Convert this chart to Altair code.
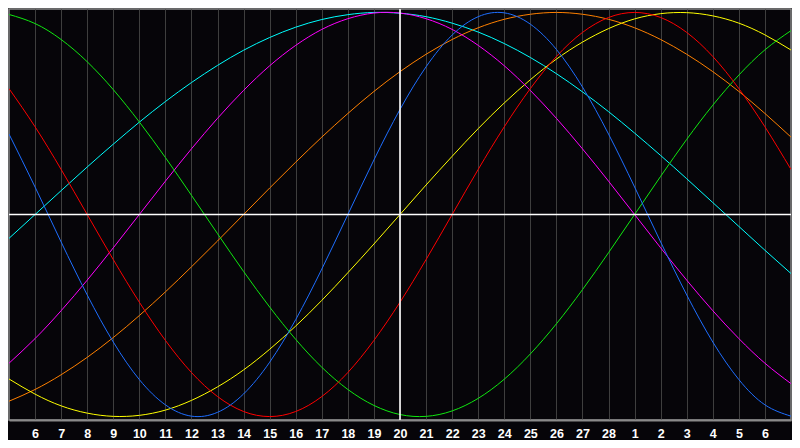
import altair as alt
import pandas as pd

# day index 0..30 (Feb 5 .. Mar 7); day 15 = Feb 20 (today)
days = list(range(31))

# tick labels for day index 1..29
day_labels = ["6", "7", "8", "9", "10", "11", "12", "13", "14", "15", "16", "17",
              "18", "19", "20", "21", "22", "23", "24", "25", "26", "27", "28",
              "1", "2", "3", "4", "5", "6"]
today = [15]

physical = [0.398, 0.136, -0.136, -0.398, -0.631, -0.817, -0.942, -0.998, -0.979, -0.888,
            -0.731, -0.520, -0.270, 0.000, 0.270, 0.520, 0.731, 0.888, 0.979, 0.998,
            0.942, 0.817, 0.631, 0.398, 0.136, -0.136, -0.398, -0.631, -0.817, -0.942, -0.998]
emotional = [0.623, 0.434, 0.223, 0.000, -0.223, -0.434, -0.623, -0.782, -0.901, -0.975,
             -1.000, -0.975, -0.901, -0.782, -0.623, -0.434, -0.223, 0.000, 0.223, 0.434,
             0.623, 0.782, 0.901, 0.975, 1.000, 0.975, 0.901, 0.782, 0.623, 0.434, 0.223]
intellectual = [0.990, 0.945, 0.866, 0.756, 0.618, 0.458, 0.282, 0.095, -0.095, -0.282,
                -0.458, -0.618, -0.756, -0.866, -0.945, -0.990, -0.999, -0.972, -0.910, -0.815,
                -0.690, -0.541, -0.372, -0.189, 0.000, 0.189, 0.372, 0.541, 0.690, 0.815, 0.910]
intuitive = [-0.736, -0.614, -0.476, -0.325, -0.165, 0.000, 0.165, 0.325, 0.476, 0.614,
             0.736, 0.837, 0.916, 0.969, 0.997, 0.997, 0.969, 0.916, 0.837, 0.736,
             0.614, 0.476, 0.325, 0.165, 0.000, -0.165, -0.325, -0.476, -0.614, -0.736, -0.837]
aesthetic = [-0.814, -0.889, -0.947, -0.983, -0.999, -0.994, -0.968, -0.920, -0.853, -0.769,
             -0.667, -0.552, -0.425, -0.288, -0.146, 0.000, 0.146, 0.288, 0.425, 0.552,
             0.667, 0.769, 0.853, 0.920, 0.968, 0.994, 0.999, 0.983, 0.947, 0.889, 0.814]
awareness = [-0.924, -0.866, -0.793, -0.707, -0.609, -0.500, -0.383, -0.259, -0.131, 0.000,
             0.131, 0.259, 0.383, 0.500, 0.609, 0.707, 0.793, 0.866, 0.924, 0.966,
             0.991, 1.000, 0.991, 0.966, 0.924, 0.866, 0.793, 0.707, 0.609, 0.500, 0.383]
spiritual = [-0.118, 0.000, 0.118, 0.235, 0.348, 0.457, 0.559, 0.653, 0.738, 0.813,
             0.876, 0.927, 0.965, 0.989, 1.000, 0.996, 0.979, 0.947, 0.903, 0.846,
             0.777, 0.697, 0.607, 0.509, 0.403, 0.292, 0.177, 0.059, -0.059, -0.177, -0.292]

series_names = ["spiritual", "awareness", "aesthetic", "intuitive",
                "intellectual", "emotional", "physical"]
series_values = [spiritual, awareness, aesthetic, intuitive,
                 intellectual, emotional, physical]
series_colors = ["#00ffff", "#ff8000", "#ffff00", "#ff00ff",
                 "#10e810", "#ff0000", "#1e6eff"]

rows = []
for name, vals in zip(series_names, series_values):
    for d, v in zip(days, vals):
        rows.append({"day": d, "value": v, "series": name})
df = pd.DataFrame(rows)
today_df = pd.DataFrame({"day": today, "value": [0]})

label_expr = "[" + ",".join("'%s'" % s for s in day_labels) + "][datum.value - 1]"

xscale = alt.Scale(domain=[0, 30], nice=False, zero=False)
yscale = alt.Scale(domain=[-1.017, 1.017], nice=False, zero=False)

xaxis = alt.Axis(values=list(range(1, 30)), labelExpr=label_expr,
                 title=None, ticks=False, grid=True,
                 gridColor="#3e3e3e", gridWidth=1,
                 domainColor="#8a8a8a", domainWidth=2,
                 labelColor="#ffffff", labelFont="Liberation Sans",
                 labelFontWeight="bold", labelFontSize=12.5,
                 labelPadding=7, labelFlush=False, labelOverlap=False,
                 labelSeparation=0, labelBound=False)

lines = alt.Chart(df).mark_line(strokeWidth=1, interpolate="natural", clip=True).encode(
    x=alt.X("day:Q", scale=xscale, axis=xaxis),
    y=alt.Y("value:Q", scale=yscale, axis=None),
    color=alt.Color("series:N", scale=alt.Scale(domain=series_names, range=series_colors),
                    legend=None),
    detail="series:N",
)

hline = alt.Chart(today_df).mark_rule(color="#ffffff", strokeWidth=1.3).encode(
    y=alt.Y("value:Q", scale=yscale, axis=None)
)
vline = alt.Chart(today_df).mark_rule(color="#ffffff", strokeWidth=1.6).encode(
    x=alt.X("day:Q", scale=xscale, axis=xaxis)
)

chart = alt.layer(lines, hline, vline).properties(
    width=784, height=432,
    autosize=alt.AutoSizeParams(type="fit", contains="padding"),
    background="#060509",
    padding=0,
).configure_view(
    fill="#060509", stroke="#8a8a8a", strokeWidth=1.5
).configure_axis(
    labelOverlap=False
)

chart.save("out.html", embed_options={"renderer": "svg", "actions": False})
